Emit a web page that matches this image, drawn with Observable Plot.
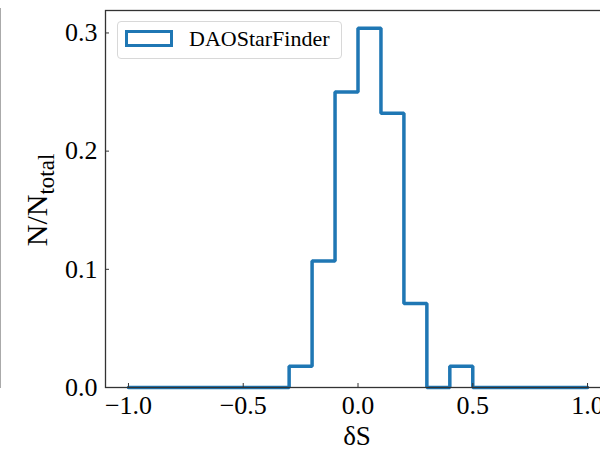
<!DOCTYPE html>
<html><head><meta charset="utf-8">
<script src="https://cdn.jsdelivr.net/npm/d3@7"></script>
<script src="https://cdn.jsdelivr.net/npm/@observablehq/plot@0.6"></script>
<style>
html,body{margin:0;padding:0;background:#fff;overflow:hidden;width:600px;height:451px}
#wrap{position:relative;width:600px;height:451px;overflow:hidden}
#leftline{position:absolute;left:0;top:8px;width:1px;height:380px;background:#aaa}
#legend{position:absolute;left:117px;top:21px;width:225px;height:38px;border:1px solid #d8d8d8;border-radius:4px;background:rgba(255,255,255,0.85);box-sizing:border-box;font-family:'Liberation Serif','Times New Roman',serif;font-size:22px;color:#000}
#legend .patch{position:absolute;left:7px;top:8px;width:48px;height:17px;border:3.5px solid #1f77b4;box-sizing:border-box}
#legend .lab{position:absolute;left:71px;top:5px;line-height:24px;white-space:nowrap}
</style></head><body><div id="wrap"><div id="leftline"></div></div>
<script>
const binEdges = [-1.0,-0.9,-0.8,-0.7,-0.6,-0.5,-0.4,-0.3,-0.2,-0.1,0.0,0.1,0.2,0.3,0.4,0.5,0.6,0.7,0.8,0.9,1.0];
const binValues = [0,0,0,0,0,0,0,0.018,0.107,0.25,0.304,0.232,0.071,0,0.018,0,0,0,0,0];
const xTicks = [-1.0,-0.5,0.0,0.5,1.0];
const yTicks = [0.0,0.1,0.2,0.3];
const seriesName = "DAOStarFinder";
const xLabel = "δS";

// step outline (matplotlib histtype="step")
const stepPts = [{x: binEdges[0], y: 0}];
binValues.forEach((v, i) => {
  stepPts.push({x: binEdges[i], y: v});
  stepPts.push({x: binEdges[i + 1], y: v});
});
stepPts.push({x: binEdges[binEdges.length - 1], y: 0});

const fmt = d3.format(".1f");
const plot = Plot.plot({
  width: 600, height: 451,
  marginLeft: 105, marginRight: -10, marginTop: 10, marginBottom: 64,
  x: {domain: [-1.1, 1.1]},
  y: {domain: [0, 0.319]},
  style: {fontFamily: "'Liberation Serif','Times New Roman',serif", fontSize: "26px", color: "#000", background: "transparent"},
  marks: [
    Plot.line(stepPts, {x: "x", y: "y", stroke: "#1f77b4", strokeWidth: 3.5, strokeLinejoin: "miter"}),
    Plot.axisX(xTicks, {tickSize: -4, tickPadding: 12, tickFormat: fmt, label: null, stroke: "#333"}),
    Plot.axisY(yTicks, {tickSize: -4, tickPadding: 12, tickFormat: fmt, label: null, stroke: "#333"}),
    Plot.frame({stroke: "#333", strokeWidth: 1.3})
  ]
});
const wrap = document.getElementById("wrap");
plot.style.position = "absolute";
plot.style.left = "0"; plot.style.top = "0";
wrap.appendChild(plot);

const svg = d3.select(plot);
svg.append("text")
  .attr("x", 357).attr("y", 445)
  .attr("text-anchor", "middle")
  .style("font-family", "'Liberation Serif','Times New Roman',serif")
  .style("font-size", "27px")
  .text(xLabel);
const yl = svg.append("text")
  .attr("transform", "translate(47,200) rotate(-90)")
  .attr("text-anchor", "middle")
  .style("font-family", "'Liberation Serif','Times New Roman',serif")
  .style("font-size", "30px");
yl.append("tspan").text("N/N");
yl.append("tspan").attr("dy", 7).style("font-size", "23px").text("total");

const lg = document.createElement("div");
lg.id = "legend";
lg.innerHTML = '<div class="patch"></div><div class="lab"></div>';
lg.querySelector(".lab").textContent = seriesName;
wrap.appendChild(lg);
</script>
</body></html>
